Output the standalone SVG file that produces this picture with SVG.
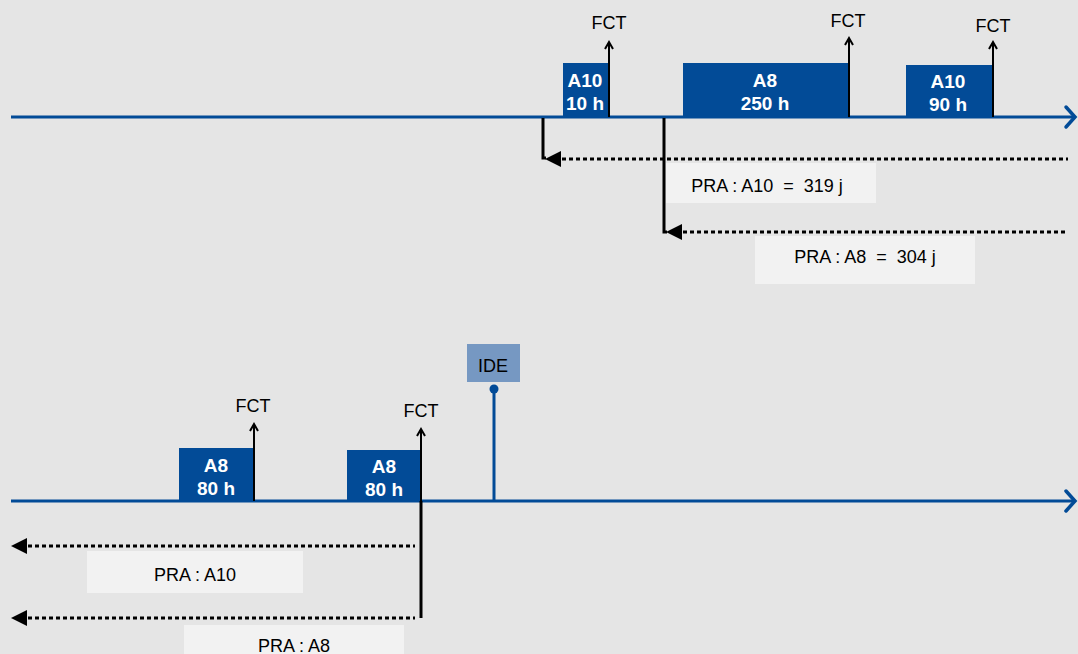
<svg xmlns="http://www.w3.org/2000/svg" width="1078" height="654" viewBox="0 0 1078 654">
<defs>
<style>
.axis{stroke:#024b97;stroke-width:3;fill:none}
.chev{stroke:#024b97;stroke-width:3.5;fill:none;stroke-linecap:round;stroke-linejoin:miter}
.task{fill:#024b97}
.tt{fill:#fff;font-family:"Liberation Sans",Arial,sans-serif;font-weight:bold;font-size:19px;text-anchor:middle}
.lbl{fill:#000;font-family:"Liberation Sans",Arial,sans-serif;font-size:18px;text-anchor:middle;white-space:pre}
.fct{stroke:#000;stroke-width:2;fill:none}
.vl{stroke:#000;stroke-width:3;fill:none}
.dot{stroke:#000;stroke-width:3;stroke-dasharray:4 3;fill:none}
.lbox{fill:#f2f2f2}
</style>
</defs>
<rect width="1078" height="654" fill="#e5e5e5"/>

<g id="connectors">
<line class="axis" x1="11" y1="117" x2="1074" y2="117"/>
<polyline class="chev" points="1066,107 1075,117 1066,127"/>
<line class="axis" x1="11" y1="501" x2="1074" y2="501"/>
<polyline class="chev" points="1066,491 1075,501 1066,511"/>
<polyline class="vl" points="543,118 543,158 546,158"/>
<polygon points="545,159 561,151 561,167" fill="#000"/>
<line class="dot" x1="562" y1="159" x2="1068" y2="159"/>
<polyline class="vl" points="664,118 664,232 667,232"/>
<polygon points="666,232 682,224 682,240" fill="#000"/>
<line class="dot" x1="683" y1="232" x2="1068" y2="232"/>
<line class="vl" x1="421" y1="501" x2="421" y2="618"/>
<polygon points="11,546 27,538 27,554" fill="#000"/>
<line class="dot" x1="28" y1="546" x2="415" y2="546"/>
<polygon points="11,618 27,610 27,626" fill="#000"/>
<line class="dot" x1="28" y1="618" x2="415" y2="618"/>
</g>

<g id="top-a10-10">
<rect class="task" x="563" y="63" width="46" height="54"/>
<text class="tt" x="585" y="87">A10</text>
<text class="tt" x="585" y="110">10 h</text>
</g>
<g id="top-a8-250">
<rect class="task" x="683" y="63" width="166" height="54"/>
<text class="tt" x="765" y="87">A8</text>
<text class="tt" x="765" y="110">250 h</text>
</g>
<g id="top-a10-90">
<rect class="task" x="906" y="65" width="87" height="52"/>
<text class="tt" x="948" y="88">A10</text>
<text class="tt" x="948" y="111">90 h</text>
</g>

<g id="fct-1">
<line class="fct" x1="609" y1="117" x2="609" y2="43"/>
<polyline class="fct" points="605,49 609,42 613,49" stroke-width="1.8"/>
<text class="lbl" x="609" y="29">FCT</text>
</g>
<g id="fct-2">
<line class="fct" x1="849" y1="117" x2="849" y2="39"/>
<polyline class="fct" points="845,45 849,38 853,45" stroke-width="1.8"/>
<text class="lbl" x="848" y="27">FCT</text>
</g>
<g id="fct-3">
<line class="fct" x1="993" y1="117" x2="993" y2="43"/>
<polyline class="fct" points="989,49 993,42 997,49" stroke-width="1.8"/>
<text class="lbl" x="993" y="32">FCT</text>
</g>

<g id="pra-a10-top">
<rect class="lbox" x="666" y="163" width="210" height="40"/>
<text class="lbl" x="767" y="192" xml:space="preserve">PRA : A10  =  319 j</text>
</g>
<g id="pra-a8-top">
<rect class="lbox" x="755" y="236" width="220" height="48"/>
<text class="lbl" x="865" y="263" xml:space="preserve">PRA : A8  =  304 j</text>
</g>

<g id="bot-a8-1">
<rect class="task" x="179" y="448" width="75" height="53"/>
<text class="tt" x="216" y="472">A8</text>
<text class="tt" x="216" y="495">80 h</text>
</g>
<g id="bot-a8-2">
<rect class="task" x="347" y="450" width="75" height="51"/>
<text class="tt" x="384" y="473">A8</text>
<text class="tt" x="384" y="496">80 h</text>
</g>
<g id="fct-4">
<line class="fct" x1="254" y1="501" x2="254" y2="425"/>
<polyline class="fct" points="250,431 254,424 258,431" stroke-width="1.8"/>
<text class="lbl" x="253" y="412">FCT</text>
</g>
<g id="fct-5">
<line class="fct" x1="421" y1="501" x2="421" y2="430"/>
<polyline class="fct" points="417,436 421,429 425,436" stroke-width="1.8"/>
<text class="lbl" x="421" y="417">FCT</text>
</g>

<g id="ide">
<rect x="467" y="344" width="53" height="38" fill="#7698c2"/>
<text class="lbl" x="493" y="372">IDE</text>
<line x1="494" y1="389" x2="494" y2="501" stroke="#024b97" stroke-width="3"/>
<circle cx="494" cy="389" r="4.5" fill="#024b97"/>
</g>

<g id="pra-a10-bot">
<rect class="lbox" x="87" y="551" width="216" height="42"/>
<text class="lbl" x="195" y="581">PRA : A10</text>
</g>
<g id="pra-a8-bot">
<rect class="lbox" x="184" y="625" width="220" height="35"/>
<text class="lbl" x="294" y="652">PRA : A8</text>
</g>
</svg>
